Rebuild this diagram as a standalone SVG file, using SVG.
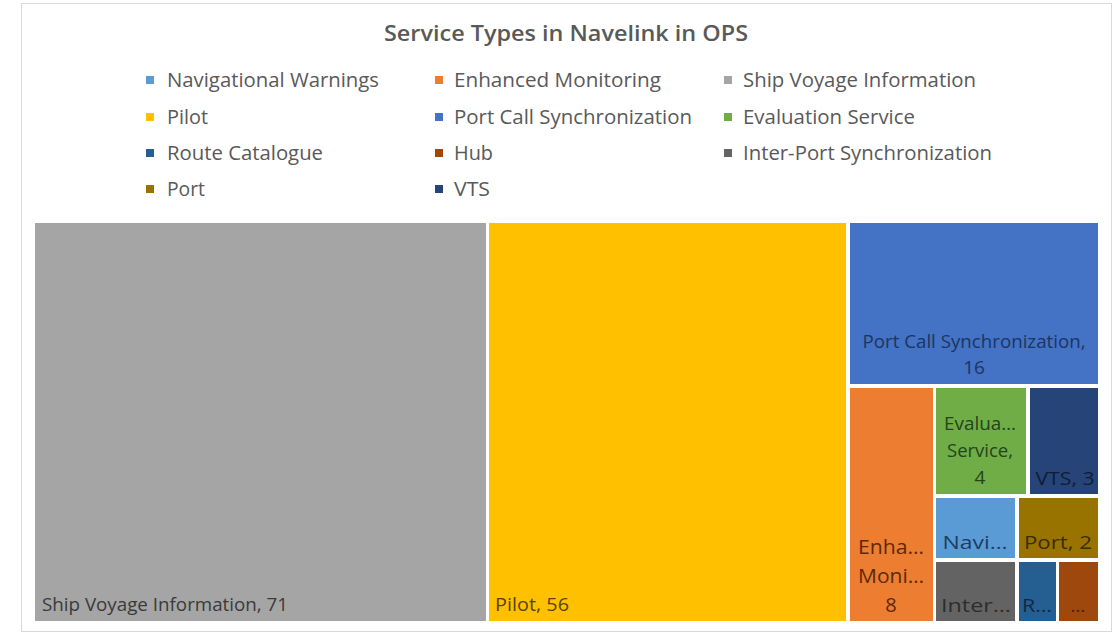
<svg xmlns="http://www.w3.org/2000/svg" width="1115" height="634" viewBox="0 0 1115 634">
<style>
text{font-family:"Open Sans","Noto Sans","Liberation Sans",sans-serif;}
.title{font-size:22px;font-weight:600;fill:#595959;}
.leg{font-size:20px;fill:#595959;}
.lbl{font-size:19px;}
.big{font-size:20px;}
.c{text-anchor:middle;}
</style>
<rect x="0" y="0" width="1115" height="634" fill="#ffffff"/>
<rect x="21.5" y="3.5" width="1090" height="628" fill="#ffffff" stroke="#d9d9d9" stroke-width="1"/>
<text class="title" x="566" y="41" text-anchor="middle" textLength="364" lengthAdjust="spacingAndGlyphs">Service Types in Navelink in OPS</text>
<g id="legend">
<rect x="146" y="76" width="8" height="8" fill="#5B9BD5"/><text class="leg" x="167" y="87" textLength="212" lengthAdjust="spacingAndGlyphs">Navigational Warnings</text>
<rect x="435" y="76" width="8" height="8" fill="#ED7D31"/><text class="leg" x="454" y="87" textLength="207" lengthAdjust="spacingAndGlyphs">Enhanced Monitoring</text>
<rect x="724" y="76" width="8" height="8" fill="#A5A5A5"/><text class="leg" x="743" y="87" textLength="233" lengthAdjust="spacingAndGlyphs">Ship Voyage Information</text>
<rect x="146" y="113" width="8" height="8" fill="#FFC000"/><text class="leg" x="167" y="124" textLength="41" lengthAdjust="spacingAndGlyphs">Pilot</text>
<rect x="435" y="113" width="8" height="8" fill="#4472C4"/><text class="leg" x="454" y="124" textLength="238" lengthAdjust="spacingAndGlyphs">Port Call Synchronization</text>
<rect x="724" y="113" width="8" height="8" fill="#70AD47"/><text class="leg" x="743" y="124" textLength="172" lengthAdjust="spacingAndGlyphs">Evaluation Service</text>
<rect x="146" y="149" width="8" height="8" fill="#255E91"/><text class="leg" x="167" y="160" textLength="156" lengthAdjust="spacingAndGlyphs">Route Catalogue</text>
<rect x="435" y="149" width="8" height="8" fill="#9E480E"/><text class="leg" x="454" y="160" textLength="39" lengthAdjust="spacingAndGlyphs">Hub</text>
<rect x="724" y="149" width="8" height="8" fill="#636363"/><text class="leg" x="743" y="160" textLength="249" lengthAdjust="spacingAndGlyphs">Inter-Port Synchronization</text>
<rect x="146" y="185" width="8" height="8" fill="#997300"/><text class="leg" x="167" y="196" textLength="38" lengthAdjust="spacingAndGlyphs">Port</text>
<rect x="435" y="185" width="8" height="8" fill="#264478"/><text class="leg" x="454" y="196" textLength="36" lengthAdjust="spacingAndGlyphs">VTS</text>
</g>
<g id="ship-voyage">
<rect x="35" y="223" width="451" height="398" fill="#A5A5A5"/>
<text class="lbl" x="42" y="611" fill="#3a3a3a" textLength="246" lengthAdjust="spacingAndGlyphs">Ship Voyage Information, 71</text>
</g>
<g id="pilot">
<rect x="489" y="223" width="357" height="398" fill="#FFC000"/>
<text class="lbl" x="495" y="611" fill="#5a4300" textLength="74" lengthAdjust="spacingAndGlyphs">Pilot, 56</text>
</g>
<g id="port-call-sync">
<rect x="850" y="223" width="248" height="161" fill="#4472C4"/>
<text class="lbl c" x="974" y="348" fill="#1c3561" textLength="223" lengthAdjust="spacingAndGlyphs">Port Call Synchronization,</text>
<text class="lbl c" x="974" y="374" fill="#1c3561">16</text>
</g>
<g id="enhanced-monitoring">
<rect x="850" y="388" width="83" height="233" fill="#ED7D31"/>
<text class="big c" x="891" y="554" fill="#5c2a0a" textLength="66" lengthAdjust="spacingAndGlyphs">Enha…</text>
<text class="big c" x="891" y="583" fill="#5c2a0a" textLength="66" lengthAdjust="spacingAndGlyphs">Moni…</text>
<text class="big c" x="891" y="612" fill="#5c2a0a">8</text>
</g>
<g id="evaluation-service">
<rect x="936" y="388" width="90" height="106" fill="#70AD47"/>
<text class="lbl c" x="980" y="430" fill="#23441a" textLength="72" lengthAdjust="spacingAndGlyphs">Evalua…</text>
<text class="lbl c" x="980" y="457" fill="#23441a" textLength="66" lengthAdjust="spacingAndGlyphs">Service,</text>
<text class="lbl c" x="980" y="484" fill="#23441a">4</text>
</g>
<g id="vts">
<rect x="1030" y="388" width="68" height="106" fill="#264478"/>
<text class="lbl c" x="1065" y="485" fill="#0d1d3a" textLength="59" lengthAdjust="spacingAndGlyphs">VTS, 3</text>
</g>
<g id="navigational-warnings">
<rect x="936" y="498" width="79" height="60" fill="#5B9BD5"/>
<text class="lbl c" x="975" y="549" fill="#1b3d63" textLength="65" lengthAdjust="spacingAndGlyphs">Navi…</text>
</g>
<g id="port">
<rect x="1019" y="498" width="79" height="60" fill="#997300"/>
<text class="lbl c" x="1058" y="549" fill="#3b2d00" textLength="68" lengthAdjust="spacingAndGlyphs">Port, 2</text>
</g>
<g id="inter-port-sync">
<rect x="936" y="562" width="79" height="59" fill="#636363"/>
<text class="lbl c" x="976" y="612" fill="#2d2d2d" textLength="70" lengthAdjust="spacingAndGlyphs">Inter…</text>
</g>
<g id="route-catalogue">
<rect x="1019" y="562" width="37" height="59" fill="#255E91"/>
<text class="lbl c" x="1037" y="612" fill="#0f2a45" textLength="30" lengthAdjust="spacingAndGlyphs">R…</text>
</g>
<g id="hub">
<rect x="1059" y="562" width="39" height="59" fill="#9E480E"/>
<text class="lbl c" x="1078" y="612" fill="#4a2006">…</text>
</g>
</svg>
